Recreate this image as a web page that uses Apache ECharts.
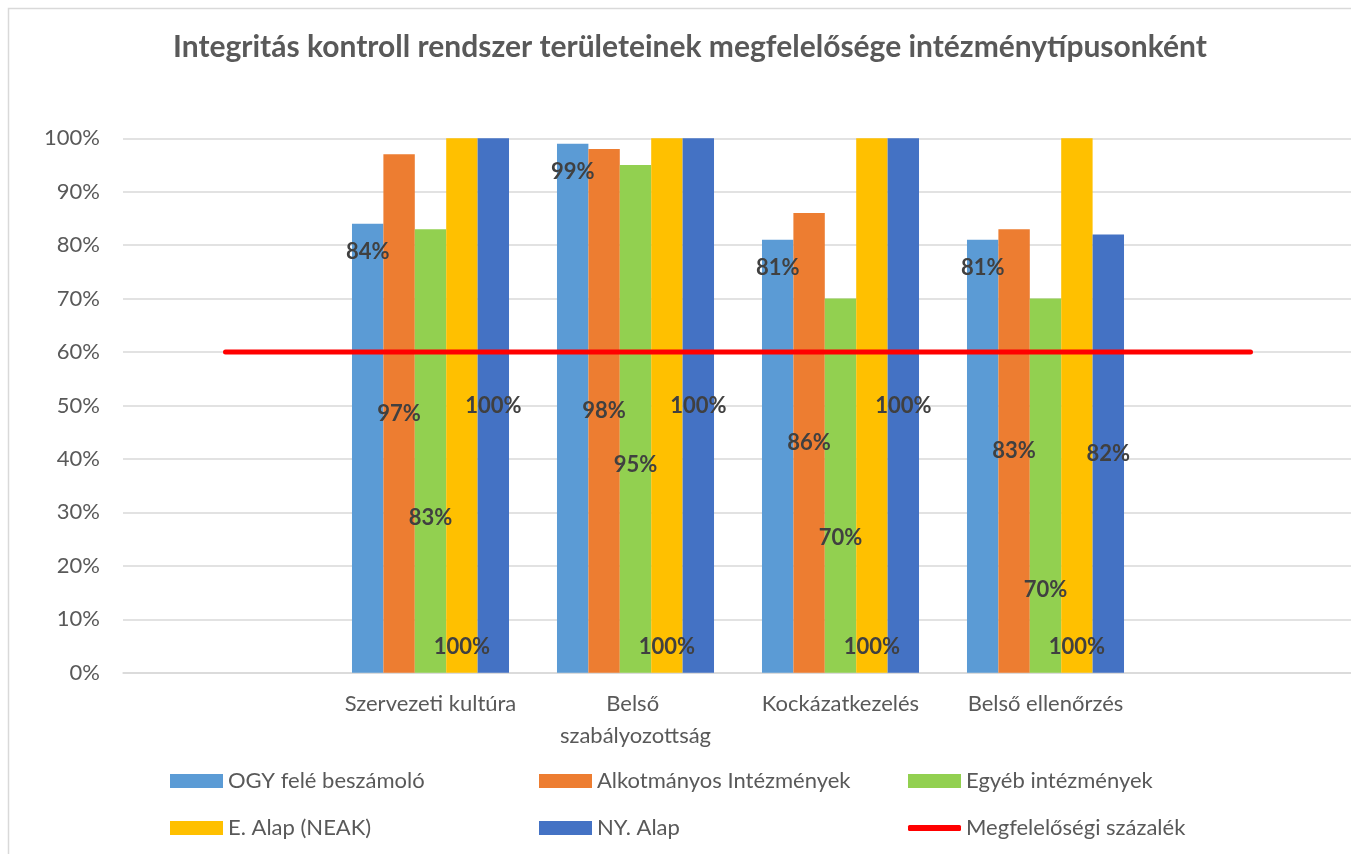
<!DOCTYPE html>
<html>
<head>
<meta charset="utf-8">
<title>Integritás kontroll rendszer</title>
<script src="https://cdn.jsdelivr.net/npm/echarts@6/dist/echarts.min.js"></script>
<style>
html, body { margin: 0; padding: 0; background: #fff; overflow: hidden; }
#chart { width: 1351px; height: 854px; }
</style>
</head>
<body>
<div id="chart"></div>
<script>
// kategóriák (üres hely a két szélén, mint az eredetin)
const categories = ['', 'Szervezeti kultúra', 'Belső szabályozottság', 'Kockázatkezelés', 'Belső ellenőrzés', '']
const ogyData = [null, 84, 99, 81, 81, null]
const alkotmanyosData = [null, 97, 98, 86, 83, null]
const egyebData = [null, 83, 95, 70, 70, null]
const eAlapData = [null, 100, 100, 100, 100, null]
const nyAlapData = [null, 100, 100, 100, 82, null]
const hatarData = [60, 60, 60, 60, 60, 60]
const yMin = 0
const yMax = 100
const yStep = 10

// a zöld oszlopok címkéi szabálytalanul ülnek
const egyebLabelPos = [null, '65%', '59%', '64%', '78%', null]

const font = 'Lato, "Open Sans", sans-serif'
const labelBase = {
  show: true,
  formatter: p => p.value + '%',
  color: '#404040',
  fontWeight: 'bold',
  fontSize: 22,
  fontFamily: font,
  align: 'center',
  verticalAlign: 'middle'
}

function barSeries(name, data, color, label) {
  return {
    name: name,
    type: 'bar',
    data: data,
    barGap: '0%',
    barCategoryGap: '23.4%',
    itemStyle: { color: color },
    label: Object.assign({}, labelBase, label)
  }
}

const series = [
  barSeries('OGY felé beszámoló', ogyData, '#5B9BD5', { position: ['50%', 28] }),
  barSeries('Alkotmányos Intézmények', alkotmanyosData, '#ED7D31', { position: 'inside' }),
  barSeries('Egyéb intézmények', egyebData.map((v, i) => v == null ? null : {
    value: v,
    label: { position: ['50%', egyebLabelPos[i]] }
  }), '#92D050', {}),
  barSeries('E. Alap (NEAK)', eAlapData, '#FFC000', { position: ['50%', '95.2%'] }),
  barSeries('NY. Alap', nyAlapData, '#4472C4', { position: 'inside' }),
  {
    name: 'Megfelelőségi százalék',
    type: 'line',
    data: hatarData,
    symbol: 'none',
    z: 5,
    itemStyle: { color: '#FF0000' },
    lineStyle: { color: '#FF0000', width: 5, cap: 'round' }
  }
]

const legendCols = [170, 539, 908]
const legendRows = [770, 817]

const chart = echarts.init(document.getElementById('chart'))
chart.setOption({
  backgroundColor: '#fff',
  animation: false,
  title: {
    text: 'Integritás kontroll rendszer területeinek megfelelősége intézménytípusonként',
    left: 173,
    top: 32,
    padding: 0,
    textStyle: {
      fontFamily: font,
      fontWeight: 'bold',
      fontSize: 30,
      color: '#595959'
    }
  },
  graphic: [{
    type: 'rect',
    silent: true,
    shape: { x: 8.5, y: 8.5, width: 1400, height: 900 },
    style: { fill: 'none', stroke: '#D9D9D9', lineWidth: 1.5 }
  }],
  legend: series.map((s, i) => {
    const isLine = s.type === 'line'
    return {
      data: [s.name],
      left: legendCols[i % 3],
      top: legendRows[Math.floor(i / 3)],
      padding: 0,
      icon: isLine ? 'roundRect' : 'rect',
      itemWidth: 53,
      itemHeight: isLine ? 6 : 14,
      selectedMode: false,
      textStyle: { fontFamily: font, fontSize: 22, color: '#595959' }
    }
  }),
  grid: {
    left: 123,
    top: 138.3,
    width: 1230,
    height: 534.4,
    outerBoundsMode: 'none'
  },
  xAxis: {
    type: 'category',
    data: categories,
    axisLine: { lineStyle: { color: '#D9D9D9', width: 1.5 } },
    axisTick: { show: false },
    axisLabel: {
      interval: 0,
      margin: 15,
      width: 195,
      overflow: 'break',
      lineHeight: 32,
      fontFamily: font,
      fontSize: 22,
      color: '#595959'
    }
  },
  yAxis: {
    type: 'value',
    min: yMin,
    max: yMax,
    interval: yStep,
    axisLine: { show: false },
    axisTick: { show: false },
    axisLabel: {
      formatter: '{value}%',
      margin: 23,
      fontFamily: font,
      fontSize: 22,
      color: '#595959'
    },
    splitLine: { lineStyle: { color: '#D9D9D9', width: 1.5 } }
  },
  series: series
})
</script>
</body>
</html>
